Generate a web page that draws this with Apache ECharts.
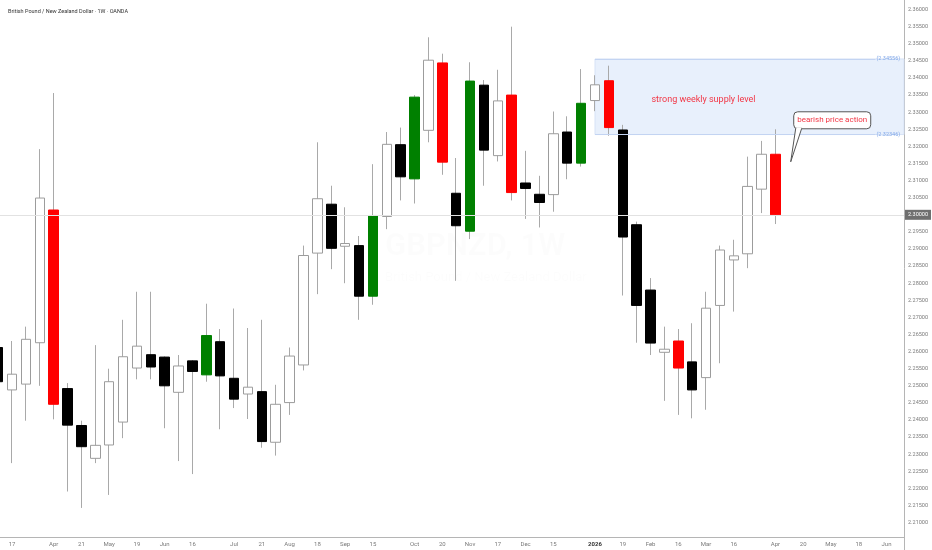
<!DOCTYPE html>
<html><head><meta charset="utf-8">
<script src="https://cdn.jsdelivr.net/npm/echarts@6/dist/echarts.min.js"></script>
<style>html,body{margin:0;padding:0;background:#fff}#c{width:932px;height:550px}</style>
</head><body><div id="c"></div>
<script>
const chartTitle = 'British Pound / New Zealand Dollar · 1W · OANDA';
const watermark = 'GBPNZD, 1W';
const watermarkSub = 'British Pound / New Zealand Dollar';

// Weekly candles, week 0 = 10 Mar 2025
const opens  = [2.2612,2.2488,2.2505,2.2626,2.3014,2.2492,2.2384,2.2288,2.2327,2.2394,
                2.2552,2.2591,2.2584,2.2481,2.2573,2.2532,2.2629,2.2522,2.2476,2.2483,
                2.2335,2.2451,2.2561,2.2888,2.3031,2.2908,2.2910,2.2762,2.2995,2.3205,
                2.3105,2.3247,2.3444,2.3063,2.2952,2.3379,2.3173,2.3350,2.3093,2.3060,
                2.3059,2.3242,2.3151,2.3334,2.3392,2.3248,2.2971,2.2780,2.2598,2.2631,
                2.2570,2.2524,2.2735,2.2868,2.2886,2.3075,2.3177];
const closes = [2.2512,2.2534,2.2636,2.3049,2.2446,2.2385,2.2322,2.2326,2.2512,2.2585,
                2.2616,2.2555,2.2500,2.2558,2.2542,2.2647,2.2529,2.2461,2.2496,2.2337,
                2.2446,2.2587,2.2881,2.3047,2.2902,2.2916,2.2762,2.2998,2.3206,2.3111,
                2.3344,2.3452,2.3154,2.2968,2.3391,2.3189,2.3333,2.3065,2.3077,2.3036,
                2.3237,2.3151,2.3326,2.3380,2.3255,2.2935,2.2735,2.2625,2.2607,2.2552,
                2.2488,2.2727,2.2897,2.2880,2.3083,2.3177,2.3000];
const lows   = [2.2470,2.2274,2.2398,2.2500,2.2402,2.2191,2.2143,2.2274,2.2181,2.2347,
                2.2519,2.2519,2.2376,2.2280,2.2242,2.2512,2.2373,2.2435,2.2403,2.2319,
                2.2296,2.2415,2.2545,2.2768,2.2841,2.2800,2.2693,2.2737,2.2958,2.3042,
                2.3033,2.3212,2.3117,2.2807,2.2929,2.3085,2.3156,2.3042,2.2988,2.2963,
                2.3009,2.3104,2.3141,2.3303,2.3231,2.2764,2.2626,2.2590,2.2456,2.2415,
                2.2405,2.2430,2.2566,2.2717,2.2844,2.3005,2.2973];
const highs  = [2.2640,2.2631,2.2673,2.3192,2.3356,2.2508,2.2398,2.2619,2.2550,2.2693,
                2.2775,2.2775,2.2586,2.2590,2.2575,2.2740,2.2666,2.2726,2.2669,2.2693,
                2.2503,2.2612,2.2910,2.3212,2.3085,2.3022,2.2938,2.3148,2.3242,2.3255,
                2.3350,2.3519,2.3471,2.3166,2.3446,2.3394,2.3424,2.3550,2.3187,2.3114,
                2.3302,2.3288,2.3426,2.3408,2.3436,2.3263,2.2980,2.2815,2.2673,2.2666,
                2.2683,2.2775,2.2910,2.2927,2.3170,2.3216,2.3250];
// weeks painted red (bearish) / green (bullish) by the author
const highlighted = [4,15,27,30,32,34,37,42,44,49,56];

const xTickWeeks  = [1,4,6,8,10,12,14,17,19,21,23,25,27,30,32,34,36,38,40,43,45,47,49,51,53,56,58,60,62,64];
const xTickLabels = ['17','Apr','21','May','19','Jun','16','Jul','21','Aug','18','Sep','15','Oct','20',
                     'Nov','17','Dec','15','2026','19','Feb','16','Mar','16','Apr','20','May','18','Jun'];
const yTicks = [2.21,2.215,2.22,2.225,2.23,2.235,2.24,2.245,2.25,2.255,2.26,2.265,2.27,2.275,2.28,
                2.285,2.29,2.295,2.30,2.305,2.31,2.315,2.32,2.325,2.33,2.335,2.34,2.345,2.35,2.355,2.36];

const zoneFromWeek = 43;
const zoneTop = 2.34556;
const zoneBottom = 2.32346;
const zoneText = 'strong weekly supply level';
const calloutText = 'bearish price action';
const calloutWeek = 57.1;
const calloutPrice = 2.3155;

const xMin = 0.135, xMax = 65.26, yMin = 2.2058, yMax = 2.3628;

const WICK = '#a9a9a9';
function candleStyle(i) {
  const up = closes[i] >= opens[i];
  let fill, border;
  if (highlighted.includes(i)) { fill = up ? '#008000' : '#ff0000'; border = fill; }
  else if (up) { fill = '#ffffff'; border = '#9c9c9c'; }
  else { fill = '#000000'; border = '#000000'; }
  return { color: fill, color0: fill, borderColor: border, borderColor0: border, borderWidth: 1 };
}
const wickData = opens.map((o, i) => [i, o, closes[i], lows[i], highs[i]]);
const bodyData = opens.map((o, i) => ({
  value: [i, o, closes[i], Math.min(o, closes[i]), Math.max(o, closes[i])],
  itemStyle: candleStyle(i)
}));
const lastClose = closes[closes.length - 1];
const FONT = 'Roboto, "Liberation Sans", sans-serif';

const chart = echarts.init(document.getElementById('c'), null, { renderer: 'canvas' });
chart.setOption({
  animation: false,
  backgroundColor: '#ffffff',
  textStyle: { fontFamily: FONT },
  title: { text: chartTitle, left: 3, top: 4, textStyle: { fontSize: 5.5, fontWeight: 'normal', color: '#333', fontFamily: FONT } },
  grid: { left: 0, right: 28, top: 0, bottom: 13 },
  xAxis: {
    type: 'value', min: xMin, max: xMax,
    splitLine: { show: false },
    axisTick: { show: false },
    axisLine: { show: true, lineStyle: { color: '#b5b5b5', width: 1 } },
    axisLabel: {
      customValues: xTickWeeks,
      margin: 4, fontSize: 6, color: '#7a7a7a', fontFamily: FONT,
      formatter: v => {
        const k = xTickWeeks.indexOf(v);
        const t = k >= 0 ? xTickLabels[k] : '';
        return /^\d{4}$/.test(t) ? '{y|' + t + '}' : t;
      },
      rich: { y: { fontWeight: 'bold', color: '#333', fontSize: 6, fontFamily: FONT } }
    }
  },
  yAxis: {
    type: 'value', position: 'right', min: yMin, max: yMax,
    splitLine: { show: false },
    axisTick: { show: false },
    axisLine: { show: true, lineStyle: { color: '#b5b5b5', width: 1 } },
    axisLabel: {
      customValues: yTicks,
      margin: 4, fontSize: 5.5, color: '#7a7a7a', fontFamily: FONT,
      formatter: v => v.toFixed(5)
    }
  },
  series: [
    {
      type: 'candlestick', name: 'wicks', barWidth: 1, clip: true,
      itemStyle: { color: WICK, color0: WICK, borderColor: WICK, borderColor0: WICK, borderWidth: 1 },
      data: wickData,
      markLine: {
        silent: true, symbol: ['none', 'none'], animation: false,
        lineStyle: { color: '#e2e2e2', width: 1, type: 'solid' },
        label: {
          show: true, position: 'end', distance: 1,
          formatter: () => lastClose.toFixed(5),
          backgroundColor: '#6f6f6f', color: '#ffffff', fontSize: 5.5, padding: [2, 3], fontFamily: FONT
        },
        data: [{ yAxis: lastClose }]
      }
    },
    {
      type: 'candlestick', name: 'bodies', barWidth: 10, clip: true,
      data: bodyData,
      markArea: {
        silent: true,
        itemStyle: { color: 'rgba(214,228,250,0.55)', borderColor: '#d6e2f6', borderWidth: 1 },
        label: { show: true, position: 'inside', offset: [-46, 3], color: '#f23645', fontSize: 9, fontFamily: FONT },
        data: [[{ name: zoneText, xAxis: zoneFromWeek, yAxis: zoneTop }, { xAxis: xMax, yAxis: zoneBottom }]]
      },
      markLine: {
        silent: true, symbol: ['none', 'none'], animation: false,
        lineStyle: { color: '#c3d4f2', width: 1, type: 'solid' },
        label: { show: true, position: 'end', distance: 1, color: '#7fa6e8', fontSize: 5.5, fontFamily: FONT },
        data: [
          [{ xAxis: zoneFromWeek, yAxis: zoneTop, label: { formatter: '(' + zoneTop.toFixed(5) + ')' } }, { xAxis: 63.2, yAxis: zoneTop }],
          [{ xAxis: zoneFromWeek, yAxis: zoneBottom, label: { formatter: '(' + zoneBottom.toFixed(5) + ')' } }, { xAxis: 63.2, yAxis: zoneBottom }]
        ]
      }
    }
  ]
});

// annotations positioned from data space
const tip = chart.convertToPixel({ xAxisIndex: 0, yAxisIndex: 0 }, [calloutWeek, calloutPrice]);
const axisX = chart.convertToPixel({ xAxisIndex: 0 }, xMax);
const axisBottom = chart.convertToPixel({ yAxisIndex: 0 }, yMin);
const center = chart.convertToPixel({ xAxisIndex: 0, yAxisIndex: 0 }, [34, 2.2875]);
const bx = tip[0] + 3, by = tip[1] - 50, bw = 77, bh = 17;
chart.setOption({
  graphic: [
    { type: 'text', left: center[0] - 85, top: center[1] - 26, silent: true, z: -1,
      style: { text: watermark, fill: 'rgba(0,0,0,0.012)', font: 'bold 31px Roboto' } },
    { type: 'text', left: center[0] - 85, top: center[1] + 14, silent: true, z: -1,
      style: { text: watermarkSub, fill: 'rgba(0,0,0,0.012)', font: '13px Roboto' } },
    { type: 'line', silent: true, shape: { x1: axisX + 0.5, y1: axisBottom, x2: axisX + 0.5, y2: 550 },
      style: { stroke: '#b5b5b5', lineWidth: 1 } },
    { type: 'rect', silent: true, z: 10, shape: { x: bx, y: by, width: bw, height: bh, r: 4 },
      style: { fill: '#ffffff', stroke: '#555555', lineWidth: 1 } },
    { type: 'polygon', silent: true, z: 11,
      shape: { points: [[bx + 2, by + bh - 0.5], [bx + 8, by + bh - 0.5], tip] },
      style: { fill: '#ffffff', stroke: '#555555', lineWidth: 1 } },
    { type: 'line', silent: true, z: 12, shape: { x1: bx + 2.5, y1: by + bh - 0.5, x2: bx + 7.5, y2: by + bh - 0.5 },
      style: { stroke: '#ffffff', lineWidth: 1.5 } },
    { type: 'text', silent: true, z: 13, x: bx + bw / 2, y: by + bh / 2,
      style: { text: calloutText, fill: '#f23645', fontSize: 8, fontFamily: 'Roboto', align: 'center', verticalAlign: 'middle' } }
  ]
});
</script>
</body></html>
